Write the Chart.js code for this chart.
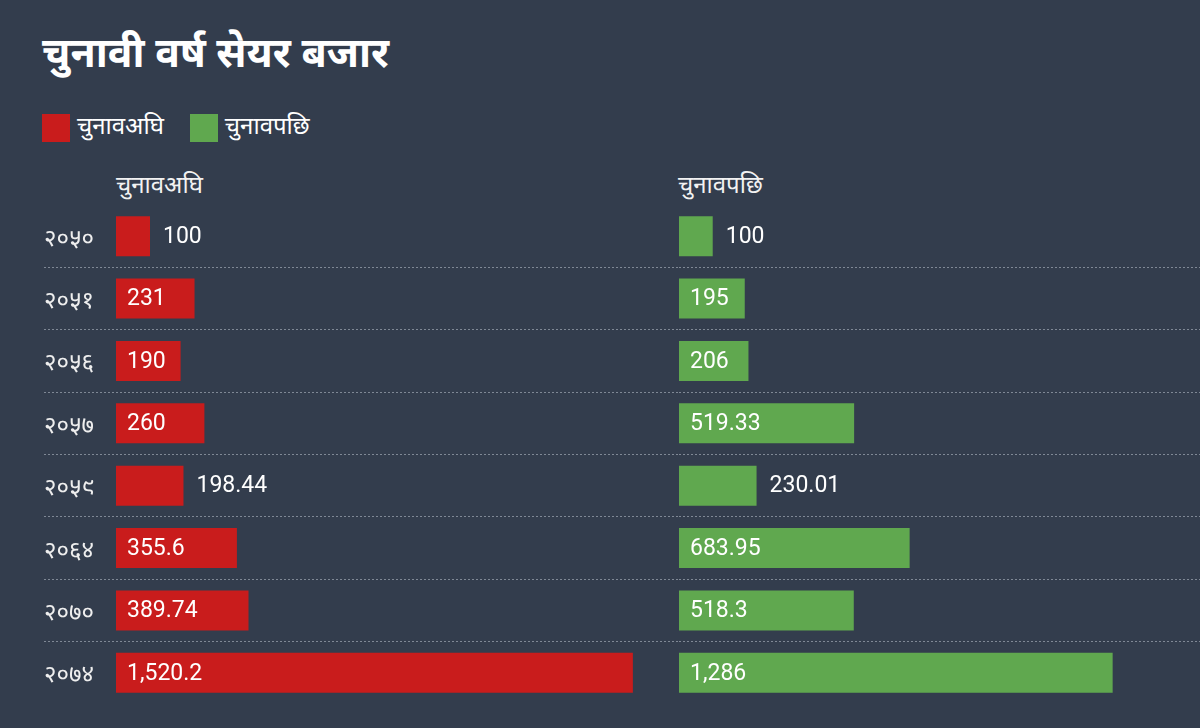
<!DOCTYPE html>
<html lang="ne">
<head>
<meta charset="UTF-8" />
<title>चुनावी वर्ष सेयर बजार</title>
<script src="https://cdn.jsdelivr.net/npm/chart.js"></script>
<style>
  html, body { margin: 0; padding: 0; }
  body {
    width: 1200px; height: 728px; overflow: hidden; position: relative;
    background: #333d4d; color: #fff;
    font-family: "Noto Sans Devanagari", "Noto Sans", Roboto, sans-serif;
  }
  h1 { position: absolute; left: 42px; top: 25px; margin: 0; font-size: 41px; font-weight: 700; line-height: 64px; }
  .legend { position: absolute; left: 42px; top: 110px; display: flex; font-size: 24px; line-height: 36px; }
  .legend span { display: flex; align-items: center; margin-right: 26px; }
  .legend i { display: inline-block; width: 28px; height: 28px; margin-right: 7px; }
  .head { position: absolute; top: 169px; font-size: 24px; line-height: 36px; color: #f2f2f2; }
  .box { position: absolute; top: 0; height: 728px; }
</style>
</head>
<body>
<h1>चुनावी वर्ष सेयर बजार</h1>
<div class="legend">
  <span><i style="background:#c91c1c"></i>चुनावअघि</span>
  <span><i style="background:#60a84f"></i>चुनावपछि</span>
</div>
<div class="head" style="left:116px">चुनावअघि</div>
<div class="head" style="left:678px">चुनावपछि</div>
<div class="box" style="left:0;width:660px"><canvas id="before"></canvas></div>
<div class="box" style="left:660px;width:540px"><canvas id="after"></canvas></div>

<script>
const years = ["२०५०", "२०५१", "२०५६", "२०५७", "२०५९", "२०६४", "२०७०", "२०७४"];
const beforeElection = [100, 231, 190, 260, 198.44, 355.6, 389.74, 1520.2];
const afterElection = [100, 195, 206, 519.33, 230.01, 683.95, 518.3, 1286];

const RED = "#c91c1c";
const GREEN = "#60a84f";
const DOTS = "rgba(190,198,210,0.55)";

// value labels: inside the bar when they fit, else just right of it
const valueLabels = {
  id: "valueLabels",
  afterDatasetsDraw(chart) {
    const ctx = chart.ctx;
    ctx.save();
    ctx.font = "23px Roboto";
    ctx.fillStyle = "#ffffff";
    ctx.textBaseline = "middle";
    const ds = chart.data.datasets[0];
    chart.getDatasetMeta(0).data.forEach((bar, i) => {
      const txt = ds.data[i].toLocaleString("en-US");
      const w = ctx.measureText(txt).width;
      const barW = bar.x - bar.base;
      const x = w + 20 <= barW ? bar.base + 11 : bar.x + 13;
      ctx.fillText(txt, x, bar.y + 1);
    });
    ctx.restore();
  },
};

const rowColor = (c) => (c.type === "tick" && c.index > 0 ? DOTS : "transparent");

function makeChart(id, values, color, xMax, axisWidth, showLabels, padLeft) {
  return new Chart(document.getElementById(id), {
    type: "bar",
    data: {
      labels: years,
      datasets: [{
        data: values,
        backgroundColor: color,
        borderWidth: 0,
        categoryPercentage: 1,
        barPercentage: 0.64,
      }],
    },
    options: {
      indexAxis: "y",
      responsive: true,
      maintainAspectRatio: false,
      animation: false,
      layout: { padding: { top: 205, bottom: 24, left: padLeft, right: 0 } },
      plugins: { legend: { display: false }, tooltip: { enabled: false } },
      scales: {
        x: { display: false, min: 0, max: xMax },
        y: {
          border: { display: false, dash: [2, 2] },
          grid: {
            offset: true,
            color: rowColor,
            tickColor: rowColor,
            tickBorderDash: [2, 2],
            drawTicks: true,
            tickLength: axisWidth,
          },
          afterFit: (s) => { s.width = axisWidth; },
          ticks: {
            display: showLabels,
            crossAlign: "far",
            labelOffset: 5,
            color: "#eeeeee",
            font: { family: "'Noto Sans Devanagari', 'Noto Sans', sans-serif", size: 24 },
          },
        },
      },
    },
    plugins: [valueLabels],
  });
}

makeChart("before", beforeElection, RED, 1600, 72, true, 44);
makeChart("after", afterElection, GREEN, 1545, 19, false, 0);
</script>
</body>
</html>
